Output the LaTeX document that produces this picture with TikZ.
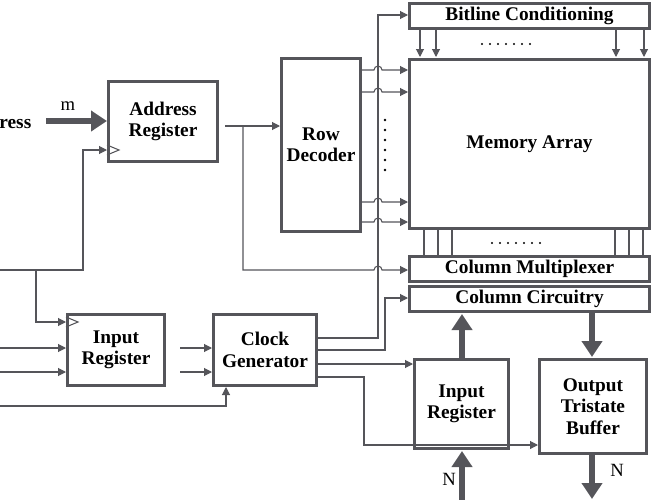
\documentclass[tikz,border=0pt]{standalone}
\usepackage{fontspec}
\setmainfont{Liberation Serif}
\usetikzlibrary{arrows.meta}
\definecolor{dg}{RGB}{85,85,90}
\begin{document}
\begin{tikzpicture}[x=0.75pt,y=-0.75pt,
 box/.style={draw=dg,line width=2.3pt,fill=white,font=\bfseries\fontsize{14.5}{16}\selectfont,align=center,inner sep=0pt},
 thin/.style={draw=dg,line width=0.8pt},
 arr/.style={thin,-{Triangle[length=6pt,width=6pt]}},
 thick/.style={draw=dg,line width=4pt,-{Triangle[length=12pt,width=15pt]}},
 lab/.style={font=\fontsize{14}{15}\selectfont}]
\useasboundingbox (0,0) rectangle (654,500);
\def\bx#1#2#3#4#5#6{\node[box,minimum width={(#4-#2)*0.75pt-2.3pt},minimum height={(#5-#3)*0.75pt-2.3pt}] (#1) at ({(#2+#4)/2},{(#3+#5)/2}) {#6};}
\bx{bl}{408}{2}{651}{30}{Bitline Conditioning}
\bx{ma}{408}{58}{651}{230}{Memory Array}
\bx{cm}{408}{255}{651}{283}{Column Multiplexer}
\bx{cc}{408}{285}{651}{313}{Column Circuitry}
\bx{ar}{107}{80}{219}{163}{Address\\Register}
\bx{rd}{280}{57}{362}{233}{Row\\Decoder}
\bx{ir}{66}{313}{166}{387}{Input\\Register}
\bx{cg}{212}{313}{318}{387}{Clock\\Generator}
\bx{ir2}{413}{358}{510}{450}{Input\\Register}
\bx{ob}{538}{358}{648}{455}{Output\\Tristate\\Buffer}
% clock triangles
\draw[thin] (107,145) -- (119,150) -- (107,155);
\draw[thin] (66,317) -- (78,322) -- (66,327);
% address input
\node[lab,anchor=east,font=\bfseries\fontsize{14.5}{15}\selectfont] (addr) at (36,122) {Address};
\node[lab] (m) at (68,106) {m};
\draw[thick] (46,121) -- (ar.west|-0,121);
% clock line
\coordinate (c0) at (0,270);
\draw[arr] (c0) -- (83,270) -- (83,150) -- (107,150);
\draw[arr] (36,270) -- (36,322) -- (66,322);
% AR out
\draw[arr] (225,126) -- (rd.west|-0,126);
\draw[arr] (243,126) -- (243,270) -- (374,270) arc (180:360:4) -- (cm.west|-0,270);
% row decoder outputs
\foreach \y in {70,92,202,222}{\draw[arr] (362,\y) -- (374,\y) arc (180:360:4) -- (408,\y);}
\foreach \y in {120,130,140,150,160,170}{\fill (385,\y) circle (1.3);}
% clock generator outputs
\draw[arr] (318,338) -- (378,338) -- (378,15) -- (bl.west|-0,15);
\draw[arr] (318,350) -- (385,350) -- (385,298) -- (cc.west|-0,298);
\draw[arr] (318,364) -- (ir2.west|-0,364);
\draw[arr] (318,377) -- (364,377) -- (364,445) -- (ob.west|-0,445);
% bitline arrows
\foreach \x in {420,436,616,644}{\draw[arr] (\x,30) -- (\x,57);}
\foreach \x in {482,490,...,530}{\fill (\x,44) circle (1.1);}
\foreach \x in {424,438,452,615,629,643}{\draw[thin] (\x,230) -- (\x,255);}
\foreach \x in {492,500,...,540}{\fill (\x,243) circle (1.1);}
% inputs
\draw[arr] (0,348) -- (ir.west|-0,348);
\draw[arr] (0,372) -- (ir.west|-0,372);
\draw[arr] (180,348) -- (cg.west|-0,348);
\draw[arr] (180,372) -- (cg.west|-0,372);
\draw[arr] (0,406) -- (226,406) -- (226,387);
% thick data
\draw[thick] (462,358) -- (462,314);
\draw[thick] (592,313) -- (592,357);
\draw[thick] (462,500) -- (462,451);
\draw[thick] (592,455) -- (592,499);
\node[lab] (n1) at (449,479) {N};
\node[lab] (n2) at (617,470) {N};
\end{tikzpicture}
\end{document}
